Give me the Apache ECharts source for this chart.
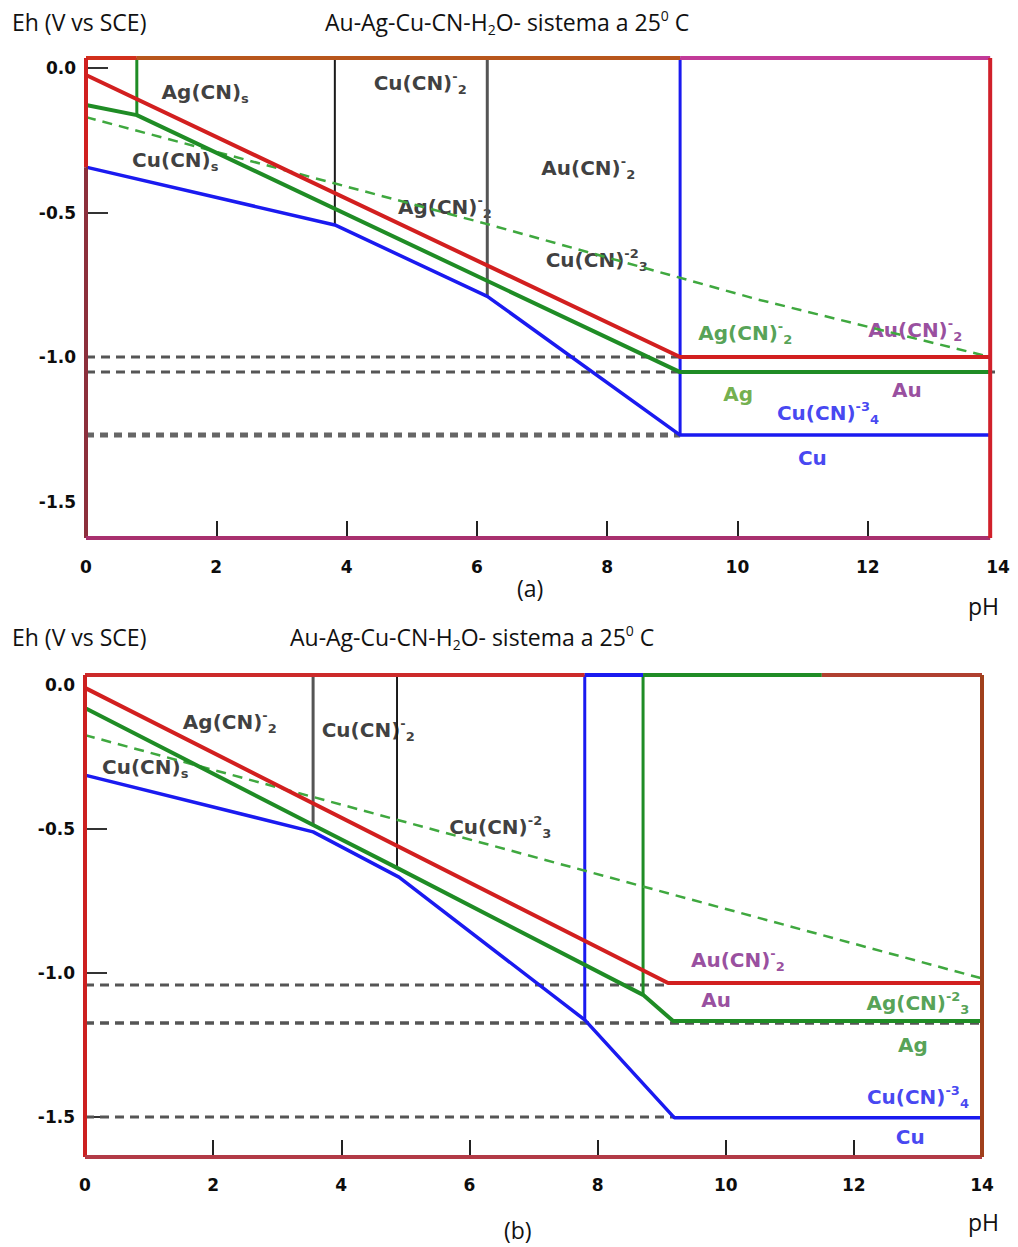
<!DOCTYPE html>
<html><head><meta charset="utf-8">
<script src="https://cdn.jsdelivr.net/npm/echarts@6/dist/echarts.min.js"></script>
<style>html,body{margin:0;padding:0;background:#fff}#c{width:1018px;height:1247px}</style>
</head><body><div id="c"></div>
<script>
// ---------- tick labels ----------
const xTickLabels = [0, 2, 4, 6, 8, 10, 12, 14];
const xTickMarks = [2, 4, 6, 8, 10, 12];
const yTickLabels = [0, -0.5, -1.0, -1.5];
const yTickMarksA = [0, -0.5];
const yTickMarksB = [-0.5, -1.0, -1.5];

// ---------- panel (a) : [pH, Eh] ----------
const auLineA = [[0, -0.024], [9.12, -1.0], [13.88, -1.0]];
const agLineA = [[0, -0.128], [0.78, -0.163], [9.12, -1.052], [13.9, -1.052]];
const cuLineA = [[0, -0.343], [3.82, -0.543], [6.16, -0.79], [9.12, -1.27], [13.88, -1.27]];
const cuDashA = [[0, -0.17], [6.16, -0.54], [10.3, -0.80], [13.88, -1.0]];
const agVertA = [[0.78, 0.035], [0.78, -0.163]];
const blackVertA = [[3.82, 0.035], [3.82, -0.543]];
const grayVertA = [[6.16, 0.035], [6.16, -0.79]];
const blueVertA = [[9.12, 0.035], [9.12, -1.27]];
const refA1 = [[0, -1.0], [9.12, -1.0]];
const refA2 = [[0, -1.052], [14.05, -1.052]];
const refA3 = [[0, -1.27], [9.12, -1.27]];
const labelsA = [
  ['Ag(CN)_s', 1.83, -0.083, 'k'],
  ['Cu(CN)^-_2', 5.13, -0.052, 'k'],
  ['Cu(CN)_s', 1.37, -0.318, 'k'],
  ['Au(CN)^-_2', 7.71, -0.346, 'k'],
  ['Ag(CN)^-_2', 5.51, -0.481, 'k'],
  ['Cu(CN)^-2_3', 7.84, -0.664, 'k'],
  ['Ag(CN)^-_2', 10.12, -0.917, 'ag'],
  ['Au(CN)^-_2', 12.73, -0.907, 'au'],
  ['Ag', 10.01, -1.128, 'ag2'],
  ['Au', 12.6, -1.114, 'au'],
  ['Cu(CN)^-3_4', 11.39, -1.194, 'cu'],
  ['Cu', 11.15, -1.35, 'cu']
];

// ---------- panel (b) : [pH, Eh] ----------
const auLineB = [[0, -0.01], [9.1, -1.035], [14, -1.035]];
const agLineB = [[0, -0.08], [3.56, -0.486], [4.87, -0.635], [8.71, -1.076], [9.18, -1.167], [14, -1.167]];
const cuLineB = [[0, -0.313], [3.56, -0.51], [4.9, -0.667], [7.8, -1.163], [9.2, -1.503], [14, -1.503]];
const cuDashB = [[0, -0.174], [14, -1.019]];
const grayVertB = [[3.56, 0.035], [3.56, -0.486]];
const blackVertB = [[4.87, 0.035], [4.87, -0.635]];
const blueVertB = [[7.8, 0.035], [7.8, -1.163]];
const agVertB = [[8.71, 0.035], [8.71, -1.076]];
const refB1 = [[0, -1.042], [9.1, -1.042]];
const refB2 = [[0, -1.174], [14.1, -1.174]];
const refB3 = [[0, -1.5], [9.2, -1.5]];
const labelsB = [
  ['Ag(CN)^-_2', 2.26, -0.128, 'k'],
  ['Cu(CN)^-_2', 4.42, -0.156, 'k'],
  ['Cu(CN)_s', 0.94, -0.285, 'k'],
  ['Cu(CN)^-2_3', 6.48, -0.493, 'k'],
  ['Au(CN)^-_2', 10.19, -0.955, 'au'],
  ['Au', 9.85, -1.094, 'au'],
  ['Ag(CN)^-2_3', 13.0, -1.104, 'ag'],
  ['Ag', 12.92, -1.25, 'ag'],
  ['Cu(CN)^-3_4', 13.0, -1.43, 'cu'],
  ['Cu', 12.88, -1.57, 'cu']
];

// ---------- axis ranges ----------
const rangeA = {xmin: 0, xmax: 14, ymin: -1.626, ymax: 0.0346, right: 13.88};
const rangeB = {xmin: 0, xmax: 14, ymin: -1.639, ymax: 0.0347, right: 14};

const inks = {k: '#0d0d0d', au: '#7e1f86', ag: '#2a8a2a', ag2: '#4f9a1e', cu: '#1515ee'};
const C = {red: '#d21f1f', green: '#1f8c25', blue: '#1a1af0', dash: '#3fa83f', ref: '#555555'};

function fmt(s) {
  const m = s.match(/^([^\^_]*)(?:\^([^_]*))?(?:_(.*))?$/);
  let out = '{m|' + m[1] + '}';
  if (m[2]) out += '{sup|' + m[2] + '}';
  if (m[3]) out += '{sub|' + m[3] + '}';
  return out;
}
function richFor(color) {
  const base = {fontFamily: 'DejaVu Sans', fontWeight: 'bold', color: color, lineHeight: 26};
  return {
    m: Object.assign({}, base, {fontSize: 20, verticalAlign: 'middle'}),
    sup: Object.assign({}, base, {fontSize: 13, verticalAlign: 'top'}),
    sub: Object.assign({}, base, {fontSize: 13, verticalAlign: 'bottom'})
  };
}

const series = [];
function line(data, gi, color, width, opts) {
  series.push(Object.assign({
    type: 'line', xAxisIndex: gi, yAxisIndex: gi, data: data, symbol: 'none',
    clip: false, silent: true, animation: false,
    lineStyle: {color: color, width: width, type: 'solid', cap: 'butt'}
  }, opts || {}));
}
function dashed(data, gi, color, width, dash) {
  line(data, gi, color, width, {lineStyle: {color: color, width: width, type: dash}});
}
function frame(r, gi, segs) {
  segs.forEach(s => line(s[0], gi, s[1], s[2] || 4));
}
function labels(list, gi) {
  series.push({
    type: 'scatter', xAxisIndex: gi, yAxisIndex: gi, symbolSize: 1, silent: true, animation: false,
    itemStyle: {color: 'rgba(0,0,0,0)'},
    data: list.map(l => ({
      value: [l[1], l[2]],
      label: {show: true, position: 'inside', align: 'center', verticalAlign: 'middle',
              formatter: fmt(l[0]), rich: richFor(inks[l[3]])}
    }))
  });
}

// panel (a)
dashed(refA1, 0, C.ref, 3, [9, 6]);
dashed(refA2, 0, C.ref, 3, [9, 6]);
dashed(refA3, 0, '#666', 5, [8, 6]);
line(agVertA, 0, C.green, 3);
line(blackVertA, 0, '#1a1a1a', 2);
line(grayVertA, 0, '#555', 3);
line(blueVertA, 0, C.blue, 3);
dashed(cuDashA, 0, C.dash, 2.5, [10, 7]);
line(cuLineA, 0, C.blue, 3.5);
line(agLineA, 0, C.green, 4);
line(auLineA, 0, C.red, 4);
frame(rangeA, 0, [
  [[[0, rangeA.ymax], [0.78, rangeA.ymax]], '#d2301c'],
  [[[0.78, rangeA.ymax], [9.12, rangeA.ymax]], '#b8561c'],
  [[[9.12, rangeA.ymax], [rangeA.right, rangeA.ymax]], '#c23a98'],
  [[[0, rangeA.ymax], [0, -0.343]], '#d02020'],
  [[[0, -0.343], [0, rangeA.ymin]], '#8c2f3c'],
  [[[0, rangeA.ymin], [rangeA.right, rangeA.ymin]], '#a8306e'],
  [[[rangeA.right, rangeA.ymax], [rangeA.right, rangeA.ymin]], '#d0202a']
]);
labels(labelsA, 0);

// panel (b)
dashed(refB1, 1, C.ref, 3, [9, 6]);
dashed(refB2, 1, C.ref, 3.5, [9, 6]);
dashed(refB3, 1, C.ref, 3, [9, 6]);
line(grayVertB, 1, '#555', 3);
line(blackVertB, 1, '#1a1a1a', 2);
line(blueVertB, 1, C.blue, 3);
line(agVertB, 1, C.green, 3);
dashed(cuDashB, 1, C.dash, 2.5, [10, 7]);
line(cuLineB, 1, C.blue, 3.5);
line(agLineB, 1, C.green, 4);
line(auLineB, 1, C.red, 4);
frame(rangeB, 1, [
  [[[0, rangeB.ymax], [7.8, rangeB.ymax]], '#cc2a2a'],
  [[[7.8, rangeB.ymax], [8.71, rangeB.ymax]], C.blue],
  [[[8.71, rangeB.ymax], [11.5, rangeB.ymax]], C.green],
  [[[11.5, rangeB.ymax], [14, rangeB.ymax]], '#b04030'],
  [[[0, rangeB.ymax], [0, rangeB.ymin]], '#cc2020'],
  [[[0, rangeB.ymin], [14, rangeB.ymin]], '#b23a46'],
  [[[14, rangeB.ymax], [14, rangeB.ymin]], '#a0401c']
]);
labels(labelsB, 1);

const tickFont = {fontFamily: 'DejaVu Sans', fontWeight: 'bold', fontSize: 17, color: '#0d0d0d'};
function xAxis(gi, margin) {
  return {
    gridIndex: gi, type: 'value', min: 0, max: 14, interval: 2, position: 'bottom',
    axisLine: {show: false, onZero: false}, splitLine: {show: false},
    axisTick: {show: true, inside: true, length: 17, lineStyle: {color: '#222', width: 2}, customValues: xTickMarks},
    axisLabel: Object.assign({customValues: xTickLabels, margin: margin}, tickFont)
  };
}
function yAxis(gi, r, marks) {
  return {
    gridIndex: gi, type: 'value', min: r.ymin, max: r.ymax, position: 'left',
    axisLine: {show: false, onZero: false}, splitLine: {show: false},
    axisTick: {show: true, inside: true, length: 22, lineStyle: {color: '#333', width: 2}, customValues: marks},
    axisLabel: Object.assign({customValues: yTickLabels, margin: 10,
      formatter: v => (Math.abs(v) < 1e-9 ? '0.0' : v.toFixed(1))}, tickFont)
  };
}

const capFont = {fontFamily: 'Open Sans', fontSize: 23, color: '#111', fontWeight: 'normal'};
const titleRich = {
  n: Object.assign({}, capFont, {lineHeight: 28, verticalAlign: 'middle'}),
  sb: Object.assign({}, capFont, {fontSize: 14, lineHeight: 28, verticalAlign: 'bottom'}),
  sp: Object.assign({}, capFont, {fontSize: 14, lineHeight: 28, verticalAlign: 'top'})
};
const mainTitle = '{n|Au-Ag-Cu-CN-H}{sb|2}{n|O- sistema a 25}{sp|0}{n| C}';
function t(text, left, top, rich) {
  return {text: text, left: left, top: top, padding: 0,
    textStyle: Object.assign({}, capFont, {lineHeight: 28}, rich ? {rich: titleRich} : {})};
}

const chart = echarts.init(document.getElementById('c'), null, {renderer: 'svg'});
chart.setOption({
  animation: false,
  backgroundColor: '#ffffff',
  title: [
    t('Eh (V vs SCE)', 12, 8),
    t(mainTitle, 325, 8, true),
    t('(a)', 517, 574),
    t('pH', 968, 592),
    t('Eh (V vs SCE)', 12, 623),
    t(mainTitle, 290, 623, true),
    t('(b)', 504, 1216),
    t('pH', 968, 1208)
  ],
  grid: [
    {left: 86, top: 58, width: 912, height: 480, containLabel: false},
    {left: 85, top: 675, width: 897, height: 482, containLabel: false}
  ],
  xAxis: [xAxis(0, 20), xAxis(1, 19)],
  yAxis: [yAxis(0, rangeA, yTickMarksA), yAxis(1, rangeB, yTickMarksB)],
  series: series
});
</script>
</body></html>
